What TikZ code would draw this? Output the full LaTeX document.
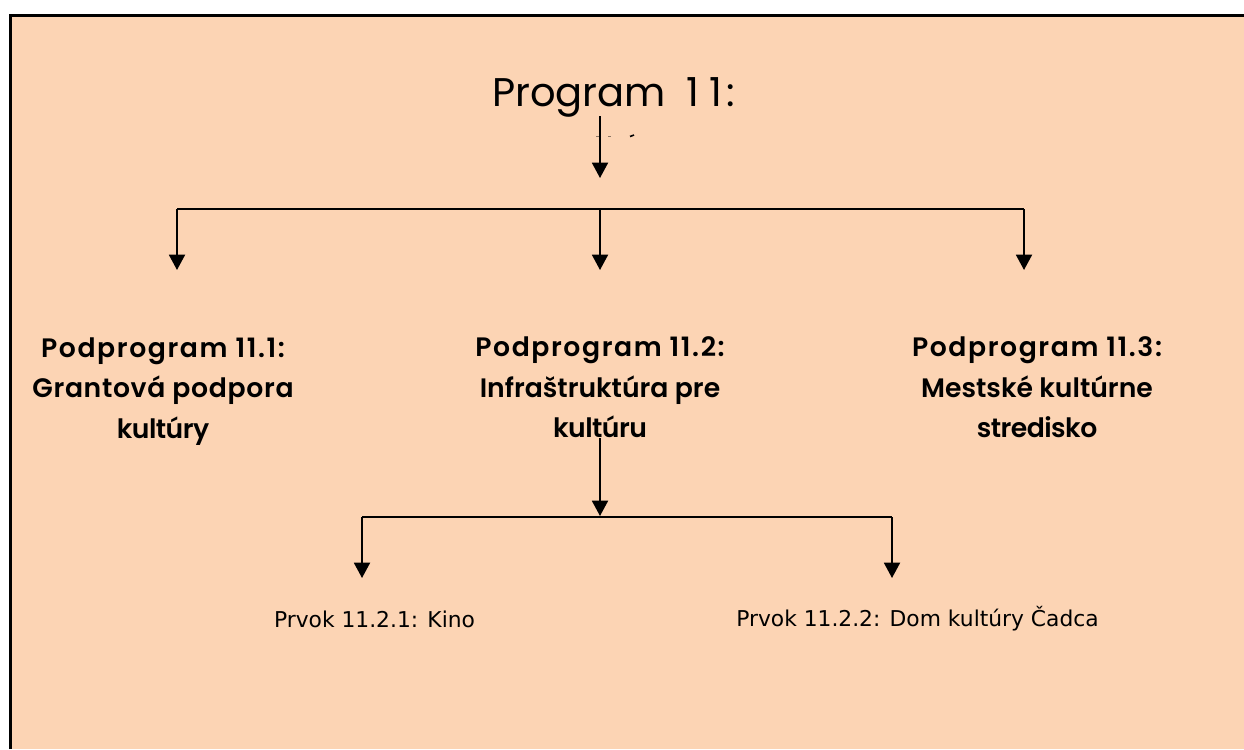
\documentclass[tikz,border=0pt]{standalone}
\usepackage{fontspec}
\setmainfont{DejaVu Sans}
\newfontfamily\titlefont{Poppins}
\newfontfamily\headfont{Poppins SemiBold}
\newfontfamily\headwide{Poppins SemiBold}[LetterSpace=6]
\newfontfamily\headmid{Poppins SemiBold}[LetterSpace=2.5]
\newfontfamily\headtight{Poppins SemiBold}[LetterSpace=-2]
\usetikzlibrary{arrows.meta}
\definecolor{peach}{RGB}{252,212,180}
\tikzset{
  px/.style={x=0.75pt,y=-0.75pt},
  conn/.style={draw=black,line width=1.4pt},
  arr/.style={conn,-{Triangle[length=11.5pt,width=12pt]}},
  head/.style={font=\headfont\fontsize{20pt}{30.4pt}\selectfont,align=center,text=black,inner sep=0pt},
  elem/.style={font=\fontsize{16.35pt}{20pt}\selectfont,text=black,inner sep=0pt,anchor=center},
  speck/.style={line width=0.7pt},
}
\begin{document}
\begin{tikzpicture}[px]
\useasboundingbox (0,0) rectangle (1244,749);
\fill[white] (0,0) rectangle (1244,749);
\fill[peach] (10.5,15.5) rectangle (1244,749);
\draw[black,line width=2.25pt] (10.5,749) -- (10.5,15.5) -- (1244,15.5);
\node[font=\titlefont\fontsize{30pt}{38pt}\selectfont,inner sep=0pt,text=black] (t) at (613.5,97.5) {Program\hspace{15pt}1\hspace{8pt}1\hspace{3pt}:};
\coordinate (t0) at (600,116);
\coordinate (j1) at (600,178);
\coordinate (b0) at (177,209);
\coordinate (b1) at (600,209);
\coordinate (b2) at (1024,209);
\coordinate (a0) at (177,270);
\coordinate (a1) at (600,270);
\coordinate (a2) at (1024,270);
\node[head] (p1) at (163,391.5) {{\headwide Podprogram 11.1:}\\{\headmid Grantová podpora}\\{\headtight kultúry}};
\node[head] (p2) at (600,387.5) {{\headwide Podprogram 11.2:}\\Infraštruktúra pre\\{\headtight kultúru}};
\node[head] (p3) at (1037,387.5) {{\headwide Podprogram 11.3:}\\Mestské kultúrne\\{\headtight stredisko}};
\coordinate (s0) at (600,438);
\coordinate (s1) at (600,516);
\coordinate (c0) at (362,517);
\coordinate (c2) at (892,517);
\coordinate (d0) at (362,578);
\coordinate (d2) at (892,578);
\node[elem] (e1) at (374.5,619) {Prvok 11.2.1: Kino};
\node[elem] (e2) at (917.5,619) {Prvok 11.2.2: Dom kultúry Čadca};
\draw[arr] (t0) -- (j1);
\draw[conn] (a0 |- b0) -- (a2 |- b0);
\draw[arr] (b0) -- (a0);
\draw[arr] (b1) -- (a1);
\draw[arr] (b2) -- (a2);
\draw[arr] (s0) -- (s1);
\draw[conn] (c0) -- (c2);
\draw[arr] (c0) -- (d0);
\draw[arr] (c2) -- (d2);
\draw[speck,black!45!peach] (596,136.5) -- (599,136.5);
\draw[speck,black!45!peach] (608,136.5) -- (611,136.5);
\draw[black,line width=1.2pt] (630,136.5) -- (634,135);
\end{tikzpicture}
\end{document}
